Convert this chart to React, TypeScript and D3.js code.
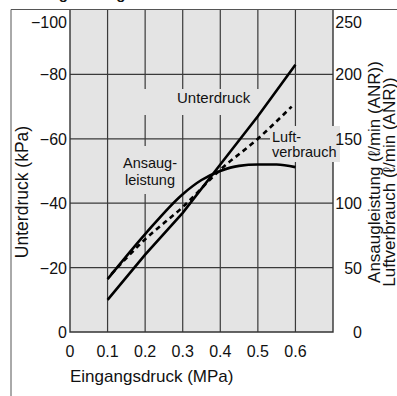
import React from 'react';
import { scaleLinear, line, curveMonotoneX } from 'd3';

// x axis: Eingangsdruck (MPa)
const xTicks = [0, 0.1, 0.2, 0.3, 0.4, 0.5, 0.6];
const leftTicks = [0, -20, -40, -60, -80, -100];
const rightTicks = [0, 50, 100, 150, 200, 250];

// Unterdruck (kPa), left axis
const druckU = [0.1, 0.2, 0.3, 0.4, 0.5, 0.6];
const unterdruck = [-10, -24, -37, -52, -67, -83];

// Ansaugleistung (l/min ANR), right axis
const druckA = [0.1, 0.2, 0.3, 0.35, 0.4, 0.45, 0.5, 0.55, 0.6];
const ansaugleistung = [41, 76, 107, 118, 125, 129, 130, 130, 128];

// Luftverbrauch (l/min ANR), right axis, dashed
const druckL = [0.11, 0.2, 0.3, 0.4, 0.5, 0.59];
const luftverbrauch = [45, 72, 97, 126, 150, 175];

const width = 397;
const height = 396;
const font = 'Liberation Sans, Arial, sans-serif';
const plotFill = '#e4e4e4';

const App = () => {
  const x = scaleLinear().domain([0, 0.7]).range([70, 333]);
  const yL = scaleLinear().domain([0, -100]).range([332, 10]);
  const yR = scaleLinear().domain([0, 250]).range([332, 10]);

  const pathU = line<number>()
    .x((d, i) => x(druckU[i]))
    .y(d => yL(d))(unterdruck);
  const pathA = line<number>()
    .x((d, i) => x(druckA[i]))
    .y(d => yR(d))
    .curve(curveMonotoneX)(ansaugleistung);
  const pathL = line<number>()
    .x((d, i) => x(druckL[i]))
    .y(d => yR(d))
    .curve(curveMonotoneX)(luftverbrauch);

  const [x0, x1] = x.range();
  const [y0, y1] = yL.range();

  return (
    <svg width={width} height={height} style={{ position: 'absolute', left: 0, top: 0, background: '#fff' }}
      fontFamily={font}>
      {/* heading, cut off at the top like the scan */}
      <text x={13} y={-1} fontSize={15} fontWeight="bold" fill="#111">Ansaugleistungskurve</text>
      {/* outer frame */}
      <line x1={11} y1={9.5} x2={width} y2={9.5} stroke="#555" strokeWidth={1} />
      <line x1={11} y1={9.5} x2={11} y2={height} stroke="#555" strokeWidth={1} />

      <rect x={x0} y={y1} width={x1 - x0} height={y0 - y1} fill={plotFill} />

      {/* grid */}
      {xTicks.slice(1).map(t => (
        <line key={'gx' + t} x1={x(t)} x2={x(t)} y1={y1} y2={y0} stroke="#3a3a3a" strokeWidth={1.2} />
      ))}
      {leftTicks.slice(1, -1).map(t => (
        <line key={'gy' + t} x1={x0} x2={x1} y1={yL(t)} y2={yL(t)} stroke="#3a3a3a" strokeWidth={1.2} />
      ))}

      {/* plot border */}
      <path d={`M${x0},${y1}V${y0}H${x1}V${y1}`} fill="none" stroke="#333" strokeWidth={1.4} />

      {/* label backgrounds cut the grid */}
      <rect x={142} y={89} width={120} height={26} fill={plotFill} />
      <rect x={120} y={146} width={58} height={48} fill={plotFill} />
      <rect x={270} y={126} width={70} height={36} fill={plotFill} />

      {/* curves */}
      <path d={pathU || ''} fill="none" stroke="#000" strokeWidth={2.6} />
      <path d={pathA || ''} fill="none" stroke="#000" strokeWidth={2.6} />
      <path d={pathL || ''} fill="none" stroke="#000" strokeWidth={2.6} strokeDasharray="5 4" />

      {/* curve labels */}
      <text x={177} y={103} fontSize={15} fill="#111">Unterdruck</text>
      <text x={150} y={168} fontSize={14.5} fill="#111" textAnchor="middle">Ansaug-</text>
      <text x={150} y={185} fontSize={14.5} fill="#111" textAnchor="middle">leistung</text>
      <text x={272} y={142} fontSize={14.5} fill="#111">Luft-</text>
      <text x={272} y={157} fontSize={14.5} fill="#111">verbrauch</text>

      {/* left ticks */}
      {leftTicks.map(t => (
        <text key={'l' + t} x={67} y={t === -100 ? 28 : yL(t) + 6} fontSize={16} textAnchor="end" fill="#111">
          {t === 0 ? '0' : '\u2212' + Math.abs(t)}
        </text>
      ))}
      {/* right ticks */}
      {rightTicks.map(t => (
        <text key={'r' + t} x={362} y={t === 250 ? 28 : yR(t) + 6} fontSize={16} textAnchor="end" fill="#111">
          {t}
        </text>
      ))}
      {/* bottom ticks */}
      {xTicks.map(t => (
        <text key={'b' + t} x={x(t)} y={357} fontSize={16} textAnchor="middle" fill="#111">
          {t === 0 ? '0' : t.toFixed(1)}
        </text>
      ))}

      {/* axis titles */}
      <text x={70} y={382} fontSize={17} fill="#111">Eingangsdruck (MPa)</text>
      <text transform="translate(28,192) rotate(-90)" fontSize={17.5} textAnchor="middle" fill="#111">
        Unterdruck (kPa)
      </text>
      <text transform="translate(380,172) rotate(-90)" fontSize={17} textAnchor="middle" fill="#111">
        Ansaugleistung (ℓ/min (ANR))
      </text>
      <text transform="translate(395,182) rotate(-90)" fontSize={17} textAnchor="middle" fill="#111">
        Luftverbrauch (ℓ/min (ANR))
      </text>
    </svg>
  );
};

export default App;
